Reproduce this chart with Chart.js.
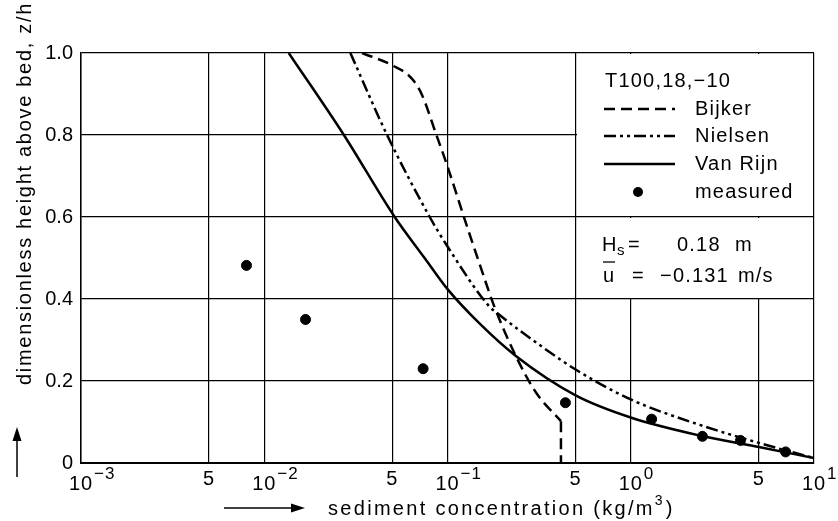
<!DOCTYPE html>
<html>
<head>
<meta charset="utf-8">
<script src="https://cdn.jsdelivr.net/npm/chart.js@4.4.0/dist/chart.umd.min.js"></script>
<style>
  html, body { margin: 0; padding: 0; background: #fff; }
  #wrap { width: 838px; height: 521px; }
</style>
</head>
<body>
<div id="wrap"><canvas id="grafico" width="838" height="521"></canvas></div>
<script>
// datos (x = concentracion kg/m3, z = z/h)
const xTicks = [0.001, 0.005, 0.01, 0.05, 0.1, 0.5, 1, 5, 10];
const yTicks = [0, 0.2, 0.4, 0.6, 0.8, 1.0];

const bijkerX = [0.0342, 0.0499, 0.0641, 0.0727, 0.0859, 0.0995, 0.128, 0.149, 0.18, 0.236, 0.304, 0.416, 0.416];
const bijkerZ = [1.0, 0.970, 0.937, 0.897, 0.807, 0.726, 0.576, 0.488, 0.382, 0.261, 0.172, 0.102, 0];

const nielsenX = [0.0295, 0.0468, 0.080, 0.1, 0.169, 0.191, 0.344, 0.5, 1.0, 2.38, 5, 10];
const nielsenZ = [1.0, 0.8, 0.6, 0.528, 0.382, 0.362, 0.277, 0.228, 0.155, 0.093, 0.049, 0.012];

const vanRijnX = [0.0136, 0.0272, 0.0515, 0.075, 0.1, 0.149, 0.236, 0.5, 1.0, 2.38, 5, 10];
const vanRijnZ = [1.0, 0.8, 0.6, 0.5, 0.424, 0.341, 0.261, 0.165, 0.111, 0.067, 0.039, 0.012];

const medidoX = [0.0080, 0.0168, 0.0736, 0.44, 1.30, 2.46, 3.97, 7.0];
const medidoZ = [0.482, 0.35, 0.23, 0.147, 0.107, 0.065, 0.055, 0.027];

const FUENTE = "'Liberation Sans', Arial, sans-serif";
const RAYA = [11, 6];
const RAYA_PUNTO = [12, 4, 3, 4, 3, 4];

function puntos(xs, zs) {
    return xs.map((x, i) => ({ x: x, y: zs[i] }));
}

function flecha(ctx, x1, y1, x2, y2) {
    const ang = Math.atan2(y2 - y1, x2 - x1);
    const largo = 14, ancho = 4.5;
    const bx = x2 - largo * Math.cos(ang), by = y2 - largo * Math.sin(ang);
    ctx.beginPath();
    ctx.moveTo(x1, y1);
    ctx.lineTo(bx, by);
    ctx.lineWidth = 1.5;
    ctx.stroke();
    ctx.beginPath();
    ctx.moveTo(x2, y2);
    ctx.lineTo(bx + ancho * Math.sin(ang), by - ancho * Math.cos(ang));
    ctx.lineTo(bx - ancho * Math.sin(ang), by + ancho * Math.cos(ang));
    ctx.closePath();
    ctx.fill();
}

const cajaLeyenda = {
    id: 'cajaLeyenda',
    beforeDatasetsDraw(chart) {
        const ctx = chart.ctx;
        const a = chart.chartArea;
        const sx = chart.scales.x, sy = chart.scales.y;
        const x0 = Math.round(sx.getPixelForValue(0.5));
        const y6 = Math.round(sy.getPixelForValue(0.6));
        const y4 = Math.round(sy.getPixelForValue(0.4));
        ctx.save();
        ctx.fillStyle = '#fff';
        ctx.fillRect(x0 + 1, a.top + 1, a.right - x0 - 2, y6 - a.top - 2);
        ctx.fillRect(x0 + 1, y6 + 1, a.right - x0 - 2, y4 - y6 - 2);
        ctx.restore();
    },
    afterDraw(chart) {
        const ctx = chart.ctx;
        const sx = chart.scales.x;
        ctx.save();
        ctx.fillStyle = '#000';
        ctx.strokeStyle = '#000';

        // etiquetas del eje x (10^n y 5)
        ctx.textBaseline = 'alphabetic';
        ctx.letterSpacing = '1px';
        xTicks.forEach(v => {
            const px = sx.getPixelForValue(v);
            const n = Math.round(Math.log10(v));
            if (Math.abs(Math.pow(10, n) - v) < 1e-9) {
                ctx.font = '20px ' + FUENTE;
                ctx.textAlign = 'center';
                ctx.fillText('10', px, 490);
                const w = ctx.measureText('10').width;
                ctx.font = '17px ' + FUENTE;
                ctx.textAlign = 'left';
                ctx.fillText(n < 0 ? '\u2212' + (-n) : String(n), px + w / 2 + 1, 479);
            } else {
                ctx.font = '20px ' + FUENTE;
                ctx.textAlign = 'center';
                ctx.fillText('5', px, 485);
            }
        });

        // titulo eje x con flecha
        ctx.font = '20px ' + FUENTE;
        ctx.letterSpacing = '2.3px';
        ctx.textAlign = 'left';
        ctx.textBaseline = 'alphabetic';
        ctx.fillText('sediment concentration (kg/m', 328, 515);
        let w = ctx.measureText('sediment concentration (kg/m').width;
        ctx.font = '14px ' + FUENTE;
        ctx.fillText('3', 328 + w, 505);
        let w3 = ctx.measureText('3').width;
        ctx.font = '20px ' + FUENTE;
        ctx.fillText(')', 328 + w + w3 + 1, 515);
        flecha(ctx, 224, 508, 305, 508);

        // titulo eje y con flecha
        ctx.save();
        ctx.translate(31, 385);
        ctx.rotate(-Math.PI / 2);
        ctx.font = '20px ' + FUENTE;
        ctx.letterSpacing = '1.7px';
        ctx.fillText('dimensionless height above bed, z/h', 0, 0);
        ctx.restore();
        flecha(ctx, 17, 477, 17, 427);

        // leyenda
        ctx.letterSpacing = '1.2px';
        ctx.font = '20px ' + FUENTE;
        ctx.textBaseline = 'middle';
        ctx.textAlign = 'left';
        ctx.fillText('T100,18,\u221210', 605, 81);
        const filas = [
            { txt: 'Bijker', y: 109, dash: RAYA },
            { txt: 'Nielsen', y: 136, dash: RAYA_PUNTO },
            { txt: 'Van Rijn', y: 164, dash: [] },
            { txt: 'measured', y: 192, dash: null }
        ];
        filas.forEach(f => {
            if (f.dash) {
                ctx.beginPath();
                ctx.setLineDash(f.dash);
                ctx.lineWidth = 2.5;
                ctx.moveTo(604, f.y);
                ctx.lineTo(675, f.y);
                ctx.stroke();
                ctx.setLineDash([]);
            } else {
                ctx.beginPath();
                ctx.arc(638, f.y, 5, 0, Math.PI * 2);
                ctx.fill();
            }
            ctx.fillText(f.txt, 695, f.y);
        });

        // H_s y u media
        ctx.fillText('H', 602, 245);
        ctx.font = '15px ' + FUENTE;
        ctx.fillText('s', 617, 251);
        ctx.font = '20px ' + FUENTE;
        ctx.fillText('=', 628, 245);
        ctx.fillText('0.18', 677, 245);
        ctx.fillText('m', 735, 245);

        ctx.fillText('u', 603, 276);
        ctx.beginPath();
        ctx.lineWidth = 1.3;
        ctx.moveTo(603, 262);
        ctx.lineTo(615, 262);
        ctx.stroke();
        ctx.fillText('=', 632, 276);
        ctx.fillText('\u22120.131', 660, 276);
        ctx.fillText('m/s', 738, 276);
        ctx.restore();
    }
};

function graficos() {
    const ctx = document.getElementById('grafico').getContext('2d');
    const linea = {
        borderColor: '#000',
        backgroundColor: '#000',
        borderWidth: 2.5,
        pointRadius: 0,
        cubicInterpolationMode: 'monotone',
        fill: false,
        showLine: true
    };
    const nb = bijkerX.length;
    new Chart(ctx, {
        type: 'scatter',
        data: {
            datasets: [
                Object.assign({ label: 'Bijker', data: puntos(bijkerX, bijkerZ).slice(0, nb - 1), borderDash: RAYA }, linea),
                // tramo vertical final de Bijker hasta el fondo
                Object.assign({ label: 'Bijker fondo', data: puntos(bijkerX, bijkerZ).slice(nb - 2), borderDash: RAYA }, linea, { cubicInterpolationMode: 'default', tension: 0 }),
                Object.assign({ label: 'Nielsen', data: puntos(nielsenX, nielsenZ), borderDash: RAYA_PUNTO }, linea),
                Object.assign({ label: 'Van Rijn', data: puntos(vanRijnX, vanRijnZ) }, linea),
                {
                    label: 'measured',
                    data: puntos(medidoX, medidoZ),
                    showLine: false,
                    pointRadius: 5,
                    pointBackgroundColor: '#000',
                    pointBorderColor: '#000'
                }
            ]
        },
        options: {
            responsive: false,
            animation: false,
            devicePixelRatio: 1,
            layout: { padding: { left: 0, right: 24, top: 53, bottom: 0 } },
            plugins: {
                legend: { display: false },
                tooltip: { enabled: false }
            },
            scales: {
                x: {
                    type: 'logarithmic',
                    min: 0.001,
                    max: 10,
                    afterBuildTicks: s => { s.ticks = xTicks.map(v => ({ value: v })); },
                    afterFit: s => { s.height = 58; },
                    ticks: { display: false },
                    grid: { color: '#000', lineWidth: 1.2, drawTicks: false },
                    border: { color: '#000', width: 2 }
                },
                y: {
                    min: 0,
                    max: 1,
                    afterBuildTicks: s => { s.ticks = yTicks.map(v => ({ value: v })); },
                    afterFit: s => { s.width = 81; },
                    ticks: {
                        color: '#000',
                        padding: 8,
                        font: { family: FUENTE, size: 20 },
                        callback: v => v === 0 ? '0' : v.toFixed(1)
                    },
                    grid: { color: '#000', lineWidth: 1.2, drawTicks: false },
                    border: { color: '#000', width: 1.5 }
                }
            }
        },
        plugins: [cajaLeyenda]
    });
}

window.addEventListener('load', graficos);
</script>
</body>
</html>
